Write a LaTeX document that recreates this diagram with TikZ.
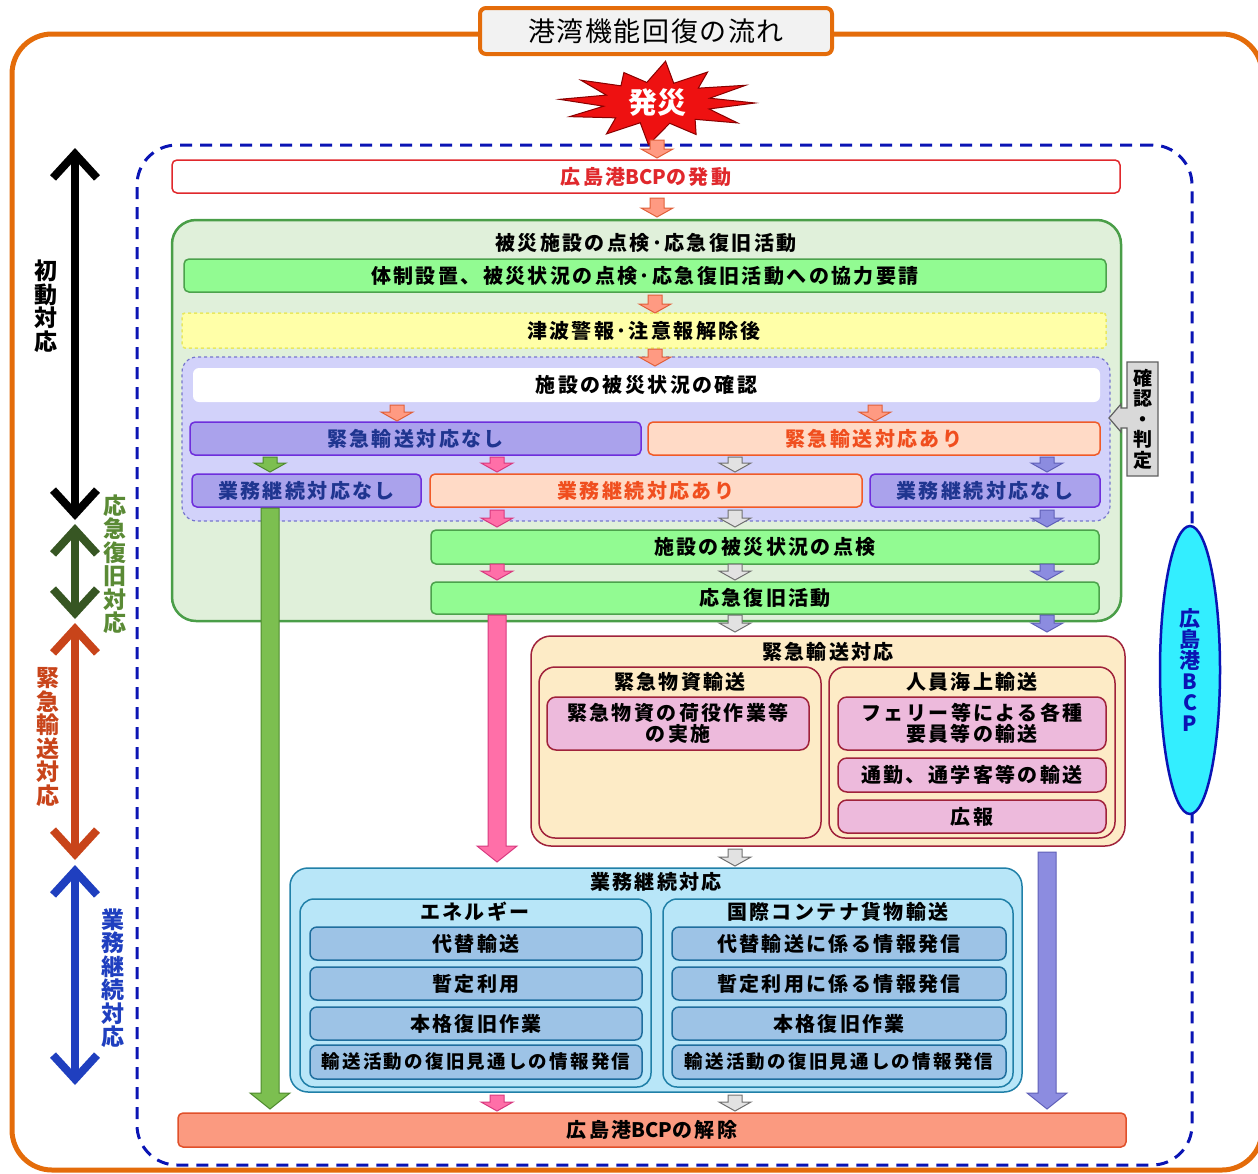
\documentclass[tikz,border=0pt]{standalone}
\usepackage{fontspec}
\setmainfont{Noto Sans CJK JP}
\newfontfamily\jpsp{Noto Sans CJK JP}[LetterSpace=12]
\newfontfamily\jpttl{Noto Sans CJK JP}[LetterSpace=6]
\newfontfamily\jpn{Noto Sans CJK JP}
\newcommand\bcp{{\jpn BCP}}
\usetikzlibrary{arrows.meta,shapes.geometric}
\newcommand\fs[2]{\fontsize{#1}{#2}\selectfont}
\definecolor{frameOr}{HTML}{E46C0A}
\definecolor{titleF}{HTML}{F2F2F2}
\definecolor{zoneB}{HTML}{0A14B4}
\definecolor{bcpRed}{HTML}{E0282C}
\definecolor{grnBigF}{HTML}{E0F0DA}
\definecolor{grnBigD}{HTML}{4A9E48}
\definecolor{barF}{HTML}{92FB92}
\definecolor{barD}{HTML}{4CA24C}
\definecolor{yelF}{HTML}{FFFFA8}
\definecolor{yelD}{HTML}{E8E860}
\definecolor{lavF}{HTML}{D2D2FA}
\definecolor{lavD}{HTML}{7676CC}
\definecolor{purBoxF}{HTML}{AAA2EC}
\definecolor{purBoxD}{HTML}{6E2EDC}
\definecolor{purTxt}{HTML}{1F3590}
\definecolor{orBoxF}{HTML}{FFDAC6}
\definecolor{orBoxD}{HTML}{F05A28}
\definecolor{orTxt}{HTML}{F04E1E}
\definecolor{emgF}{HTML}{FDEBC6}
\definecolor{emgD}{HTML}{A0223B}
\definecolor{pinkF}{HTML}{EDBADC}
\definecolor{bizF}{HTML}{B8E6F8}
\definecolor{bizD}{HTML}{2080A8}
\definecolor{itemF}{HTML}{9DC3E6}
\definecolor{itemD}{HTML}{1F6E9E}
\definecolor{endF}{HTML}{FB9A80}
\definecolor{endD}{HTML}{E0502A}
\definecolor{ellF}{HTML}{33EEFF}
\definecolor{ellD}{HTML}{0A14B4}
\definecolor{calF}{HTML}{D9D9D9}
\definecolor{calD}{HTML}{606060}
\definecolor{salF}{HTML}{FF9A82}
\definecolor{salD}{HTML}{E0603A}
\definecolor{grnF}{HTML}{7CBF50}
\definecolor{grnD}{HTML}{4E8A2E}
\definecolor{pnkF}{HTML}{FF6FA8}
\definecolor{pnkD}{HTML}{D83A80}
\definecolor{gryF}{HTML}{E2E2E2}
\definecolor{gryD}{HTML}{707070}
\definecolor{purF}{HTML}{8C8CE0}
\definecolor{purD}{HTML}{6060B8}
\definecolor{lblGrn}{HTML}{5A8A35}
\definecolor{arrGrn}{HTML}{375623}
\definecolor{lblRed}{HTML}{C8441A}
\definecolor{lblBlue}{HTML}{1F3FBF}
\definecolor{starF}{HTML}{EE1111}
\definecolor{starD}{HTML}{880000}
% small block arrow: x, ytop, ybottom, colour prefix
\newcommand\blk[4]{\filldraw[fill=#4F,draw=#4D,line width=1pt]
 ({#1-7},#2) -- ({#1+7},#2) -- ({#1+7},{#3-9}) -- ({#1+16},{#3-9}) -- (#1,#3)
 -- ({#1-16},{#3-9}) -- ({#1-7},{#3-9}) -- cycle;}
% long block arrow
\newcommand\blkL[4]{\filldraw[fill=#4F,draw=#4D,line width=1pt]
 ({#1-9},#2) -- ({#1+9},#2) -- ({#1+9},{#3-16}) -- ({#1+20},{#3-16}) -- (#1,#3)
 -- ({#1-20},{#3-16}) -- ({#1-9},{#3-16}) -- cycle;}
\tikzset{
 box/.style={rounded corners=5pt,line width=1.5pt,inner sep=0pt,align=center,
   font=\jpsp\bfseries\fs{20}{22}},
 bcpbox/.style={box,draw=bcpRed,fill=white,text=bcpRed},
 barbox/.style={box,draw=barD,fill=barF},
 purbox/.style={box,draw=purBoxD,fill=purBoxF,text=purTxt},
 orbox/.style={box,draw=orBoxD,fill=orBoxF,text=orTxt},
 pinkbox/.style={box,draw=emgD,fill=pinkF,rounded corners=9pt},
 itembox/.style={box,draw=itemD,fill=itemF,rounded corners=7pt},
 ttl/.style={inner sep=0pt,font=\jpsp\bfseries\fs{20}{22}},
 vlabel/.style={inner sep=0pt,align=center,font=\bfseries\fs{23}{23.5}},
 sidearrow/.style={line width=8pt,{Straight Barb[length=24pt,width=44pt]}-{Straight Barb[length=24pt,width=44pt]}},
}
\begin{document}
\begin{tikzpicture}[x=1pt,y=-1pt]
\useasboundingbox (0,0) rectangle (1258,1173);
\clip (0,0) rectangle (1258,1173);
% outer frame
\node[draw=frameOr,line width=5pt,rounded corners=40pt,minimum width=1250pt,minimum height=1136pt,inner sep=0pt] (frame) at (637,602) {};
\node[draw=frameOr,fill=titleF,line width=4pt,rounded corners=6pt,minimum width=352pt,minimum height=46pt,inner sep=0pt,font=\jpttl\fs{27}{30}] (title) at (656,31) {港湾機能回復の流れ};
% BCP zone
\node[draw=zoneB,line width=3pt,dash pattern=on 12pt off 8pt,rounded corners=40pt,minimum width=1055pt,minimum height=1020pt,inner sep=0pt] (zone) at (664.5,655) {};
% explosion
\foreach \a/\f [count=\i] in {0/1.0,15/0.55,30/0.95,45/0.55,62/0.85,75/0.5,95/1.0,110/0.5,125/0.9,140/0.55,160/0.95,172/0.55,185/1.0,200/0.55,215/0.95,228/0.55,245/0.8,258/0.5,275/1.0,290/0.5,305/0.9,320/0.55,335/1.0,348/0.55}
  \coordinate (s\i) at ({657+98*\f*cos(\a)},{103+42*\f*sin(\a)});
\filldraw[fill=starF,draw=starD,line width=1pt] (s1)--(s2)--(s3)--(s4)--(s5)--(s6)--(s7)--(s8)--(s9)--(s10)--(s11)--(s12)--(s13)--(s14)--(s15)--(s16)--(s17)--(s18)--(s19)--(s20)--(s21)--(s22)--(s23)--(s24)--cycle;
\node[text=white,font=\bfseries\fs{29}{31},inner sep=0pt] (hassai) at (657,103) {発災};
% BCP activation
\node[bcpbox,minimum width=948pt,minimum height=33pt] (bcpon) at (646,176.5) {広島港\bcp の発動};
% big green
\node[draw=grnBigD,fill=grnBigF,line width=2.5pt,rounded corners=24pt,minimum width=949pt,minimum height=401pt,inner sep=0pt] (grn) at (646.5,420.5) {};
\node[ttl] (grnT) at (646,243) {被災施設の点検･応急復旧活動};
\node[barbox,minimum width=922pt,minimum height=33pt] (bar1) at (645,275.5) {体制設置、被災状況の点検･応急復旧活動への協力要請};
\node[box,draw=yelD,fill=yelF,dashed,rounded corners=3pt,minimum width=924pt,minimum height=35pt] (yel) at (644,330.5) {津波警報･注意報解除後};
\node[draw=lavD,fill=lavF,line width=1.2pt,dashed,rounded corners=15pt,minimum width=928pt,minimum height=164pt,inner sep=0pt] (lav) at (646,439) {};
\node[box,draw=none,fill=white,rounded corners=6pt,minimum width=907pt,minimum height=34pt] (chk) at (646.5,385) {施設の被災状況の確認};
\node[purbox,minimum width=451pt,minimum height=33pt] (r1a) at (415.5,438.5) {緊急輸送対応なし};
\node[orbox,minimum width=452pt,minimum height=33pt] (r1b) at (874,438.5) {緊急輸送対応あり};
\node[purbox,minimum width=229pt,minimum height=33pt] (r2a) at (306.5,490.5) {業務継続対応なし};
\node[orbox,minimum width=432pt,minimum height=33pt] (r2b) at (646,490.5) {業務継続対応あり};
\node[purbox,minimum width=230pt,minimum height=33pt] (r2c) at (985,490.5) {業務継続対応なし};
\node[barbox,minimum width=668pt,minimum height=34pt] (gb2) at (765,547) {施設の被災状況の点検};
\node[barbox,minimum width=668pt,minimum height=32pt] (gb3) at (765,598) {応急復旧活動};
% emergency transport
\node[draw=emgD,fill=emgF,line width=1.5pt,rounded corners=20pt,minimum width=594pt,minimum height=210pt,inner sep=0pt] (emg) at (828,741) {};
\node[ttl] (emgT) at (828,652) {緊急輸送対応};
\node[draw=emgD,fill=emgF,line width=1.5pt,rounded corners=16pt,minimum width=282pt,minimum height=171pt,inner sep=0pt] (emgL) at (680,752.5) {};
\node[ttl] (emgLT) at (680,682) {緊急物資輸送};
\node[draw=emgD,fill=emgF,line width=1.5pt,rounded corners=16pt,minimum width=286pt,minimum height=171pt,inner sep=0pt] (emgR) at (972,752.5) {};
\node[ttl] (emgRT) at (972,682) {人員海上輸送};
\node[pinkbox,minimum width=262pt,minimum height=53pt,font=\jpsp\bfseries\fs{20}{21}] (pk1) at (678,723.5) {緊急物資の荷役作業等\\の実施};
\node[pinkbox,minimum width=268pt,minimum height=53pt,font=\jpsp\bfseries\fs{20}{21}] (pk2) at (972,723.5) {フェリー等による各種\\要員等の輸送};
\node[pinkbox,minimum width=268pt,minimum height=34pt] (pk3) at (972,775) {通勤、通学客等の輸送};
\node[pinkbox,minimum width=268pt,minimum height=33pt] (pk4) at (972,816.5) {広報};
% business continuity
\node[draw=bizD,fill=bizF,line width=1.5pt,rounded corners=18pt,minimum width=732pt,minimum height=224pt,inner sep=0pt] (biz) at (656,980) {};
\node[ttl] (bizT) at (656,882) {業務継続対応};
\node[draw=bizD,fill=bizF,line width=1.5pt,rounded corners=14pt,minimum width=351pt,minimum height=188pt,inner sep=0pt] (bizL) at (475.5,993) {};
\node[ttl] (bizLT) at (475,912) {エネルギー};
\node[draw=bizD,fill=bizF,line width=1.5pt,rounded corners=14pt,minimum width=350pt,minimum height=188pt,inner sep=0pt] (bizR) at (838,993) {};
\node[ttl] (bizRT) at (838,912) {国際コンテナ貨物輸送};
\node[itembox,minimum width=332pt,minimum height=33pt] (l1) at (476,943.5) {代替輸送};
\node[itembox,minimum width=332pt,minimum height=33pt] (l2) at (476,983.5) {暫定利用};
\node[itembox,minimum width=332pt,minimum height=33pt] (l3) at (476,1023.5) {本格復旧作業};
\node[itembox,minimum width=332pt,minimum height=34pt,font=\jpsp\bfseries\fs{18.5}{20}] (l4) at (476,1062) {輸送活動の復旧見通しの情報発信};
\node[itembox,minimum width=334pt,minimum height=33pt] (q1) at (839,943.5) {代替輸送に係る情報発信};
\node[itembox,minimum width=334pt,minimum height=33pt] (q2) at (839,983.5) {暫定利用に係る情報発信};
\node[itembox,minimum width=334pt,minimum height=33pt] (q3) at (839,1023.5) {本格復旧作業};
\node[itembox,minimum width=334pt,minimum height=34pt,font=\jpsp\bfseries\fs{18.5}{20}] (q4) at (839,1062) {輸送活動の復旧見通しの情報発信};
% release
\node[box,draw=endD,fill=endF,minimum width=948pt,minimum height=34pt] (endb) at (652,1130) {広島港\bcp の解除};
% small arrows
\blk{657}{140}{158}{sal}
\blk{657}{198}{217}{sal}
\blk{655}{295}{313}{sal}
\blk{655}{349}{366}{sal}
\blk{397}{405}{421}{sal}
\blk{875}{405}{421}{sal}
\blk{270}{457}{472}{grn}
\blk{497}{457}{472}{pnk}
\blk{735}{457}{472}{gry}
\blk{1047}{457}{472}{pur}
\blk{497}{510}{527}{pnk}
\blk{735}{510}{527}{gry}
\blk{1047}{510}{527}{pur}
\blk{497}{564}{580}{pnk}
\blk{735}{564}{580}{gry}
\blk{1047}{564}{580}{pur}
\blk{735}{615}{632}{gry}
\blk{1047}{615}{632}{pur}
\blk{735}{849}{866}{gry}
\blk{497}{1095}{1111}{pnk}
\blk{735}{1095}{1111}{gry}
% long arrows
\blkL{270}{508}{1109}{grn}
\blkL{497}{615}{862}{pnk}
\blkL{1047}{852}{1109}{pur}
% check / judge callout
\filldraw[fill=calF,draw=calD,line width=1.2pt] (1127,362) -- (1158,362) -- (1158,476) -- (1127,476) -- (1127,428) -- (1121,428) -- (1121,432) -- (1109,418) -- (1121,404) -- (1121,408) -- (1127,408) -- cycle;
\node[inner sep=0pt,align=center,font=\bfseries\fs{19}{20.5}] (judge) at (1143,419) {確\\認\\・\\判\\定};
% BCP ellipse
\node[ellipse,draw=ellD,fill=ellF,line width=2.5pt,minimum width=60pt,minimum height=288pt,inner sep=0pt,align=center,text=ellD,font=\bfseries\fs{21}{21}] (ell) at (1190,670) {広\\島\\港\\B\\C\\P};
% side phase arrows
\coordinate (k1) at (75,148); \coordinate (k2) at (75,520);
\coordinate (g1) at (75,524); \coordinate (g2) at (75,619);
\coordinate (e1) at (75,623); \coordinate (e2) at (75,860);
\coordinate (b1) at (75,865); \coordinate (b2) at (75,1085);
\draw[sidearrow,draw=black] (k1) -- (k2);
\draw[sidearrow,draw=arrGrn] (g1) -- (g2);
\draw[sidearrow,draw=lblRed] (e1) -- (e2);
\draw[sidearrow,draw=lblBlue] (b1) -- (b2);
\node[vlabel] (lk) at (46,306) {初\\動\\対\\応};
\node[vlabel,text=lblGrn] (lg) at (115,564) {応\\急\\復\\旧\\対\\応};
\node[vlabel,text=lblRed] (le) at (48,737) {緊\\急\\輸\\送\\対\\応};
\node[vlabel,text=lblBlue] (lb) at (113,978) {業\\務\\継\\続\\対\\応};
\end{tikzpicture}
\end{document}
